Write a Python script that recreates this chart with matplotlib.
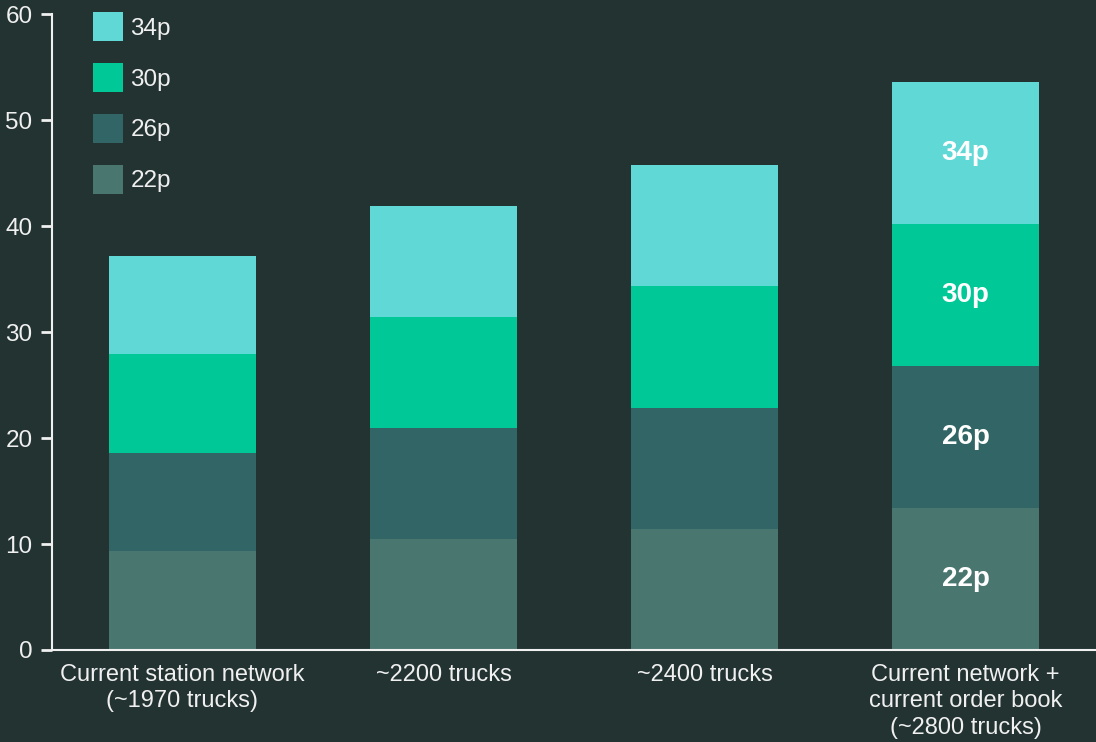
import numpy as np
import matplotlib
matplotlib.use("Agg")
from matplotlib import pyplot as plt
from matplotlib.patches import Patch

categories = ["Current station network\n(~1970 trucks)",
              "~2200 trucks",
              "~2400 trucks",
              "Current network +\ncurrent order book\n(~2800 trucks)"]
series_names = ["22p", "26p", "30p", "34p"]
values_22p = [9.3, 10.45, 11.4, 13.4]
values_26p = [9.3, 10.45, 11.45, 13.4]
values_30p = [9.3, 10.5, 11.45, 13.4]
values_34p = [9.3, 10.5, 11.5, 13.4]
# only the last bar gets labels inside the segments
labelled_bar = 3

bg = "#223332"
fg = "#f0f0f0"
colors = ["#4a7670", "#326666", "#00c896", "#5fd8d6"]

plt.rcParams["font.family"] = ["Liberation Sans", "DejaVu Sans"]

fig = plt.figure(figsize=(10.96, 7.42), dpi=100, facecolor=bg)
ax = fig.add_axes([0.0474, 0.124, 0.9526, 0.857])
ax.set_facecolor(bg)

x = np.arange(len(categories))
bottom = np.zeros(len(categories))
for name, vals, col in zip(series_names, [values_22p, values_26p, values_30p, values_34p], colors):
    vals = np.array(vals)
    ax.bar(x, vals, width=0.56, bottom=bottom, color=col, linewidth=0)
    ax.text(x[labelled_bar], bottom[labelled_bar] + vals[labelled_bar] / 2, name,
            ha="center", va="center", color="white", fontsize=20, fontweight="bold")
    bottom += vals

ax.set_xlim(-0.5, 3.5)
ax.set_ylim(0, 60)
ax.set_yticks(range(0, 61, 10))
ax.set_xticks(x)
ax.set_xticklabels(categories, fontsize=17, color=fg, linespacing=1.27)
ax.tick_params(axis="y", labelsize=17.5, labelcolor=fg, color=fg, length=8, width=2, pad=6)
ax.tick_params(axis="x", length=0, pad=10)

for side in ["top", "right"]:
    ax.spines[side].set_visible(False)
for side in ["left", "bottom"]:
    ax.spines[side].set_color(fg)
    ax.spines[side].set_linewidth(1.5)

handles = [Patch(facecolor=c, edgecolor="none", label=n) for n, c in zip(series_names, colors)][::-1]
leg = ax.legend(handles=handles, loc="upper left", bbox_to_anchor=(0.018, 1.037),
                frameon=False, fontsize=17.5, handlelength=1.25, handleheight=1.45,
                handletextpad=0.3, labelspacing=0.9)
for t in leg.get_texts():
    t.set_color(fg)

fig.savefig("out.png", dpi=100, facecolor=bg)
